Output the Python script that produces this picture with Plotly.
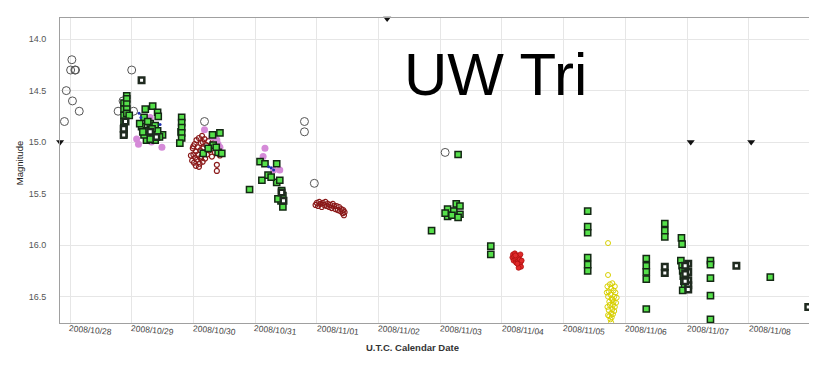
import numpy as np
import pandas as pd
import plotly.graph_objects as go

# Time in days since 2008-10-28 00:00 UT ; magnitudes
EPOCH = pd.Timestamp("2008-10-28 00:00:00")

t_visual = [-0.09, -0.06, 0.01, 0.03, 0.04, 0.08, 0.09, 0.15, 0.78, 0.86, 1.00, 1.03,
            2.18, 3.80, 3.80, 3.96, 6.08]
m_visual = [14.80, 14.50, 14.30, 14.20, 14.60, 14.30, 14.30, 14.70, 14.70, 14.60, 14.30, 14.70,
            14.80, 14.80, 14.90, 15.40, 15.10]

t_darkred = [1.96, 1.98, 1.99, 2.00, 2.01, 2.02, 2.03, 2.04, 2.05, 2.06, 2.07, 2.08, 2.09, 2.10,
             2.11, 2.12, 2.13, 2.14, 2.15, 2.16, 2.17, 2.18, 2.19, 2.21, 2.22, 2.24, 2.26, 2.28,
             2.30, 2.33, 2.35, 2.38, 2.38, 2.41, 2.43, 2.04, 2.09, 2.12, 2.00, 2.15,
             3.98, 4.00, 4.02, 4.04, 4.06, 4.08, 4.10, 4.12, 4.14, 4.16, 4.18, 4.20, 4.22, 4.24,
             4.26, 4.28, 4.30, 4.32, 4.34, 4.36, 4.38, 4.40, 4.42, 4.43, 4.44, 4.45]
m_darkred = [15.13, 15.18, 15.06, 15.12, 15.20, 15.02, 15.15, 15.09, 14.98, 15.17, 15.05, 15.12,
             14.96, 15.21, 15.08, 15.01, 15.14, 14.94, 15.19, 15.06, 15.10, 14.97, 15.16, 15.03,
             15.12, 14.99, 15.08, 15.04, 15.14, 15.01, 15.10, 15.22, 15.28, 15.07, 15.13, 15.23,
             15.24, 15.16, 15.04, 15.00,
             15.61, 15.59, 15.62, 15.58, 15.60, 15.63, 15.59, 15.61, 15.58, 15.62, 15.60, 15.63,
             15.61, 15.64, 15.60, 15.62, 15.65, 15.62, 15.66, 15.63, 15.67, 15.65, 15.69, 15.66,
             15.71, 15.68]

t_pink = [1.08, 1.11, 1.30, 1.28, 1.32, 1.49,
          2.18, 2.30, 2.38, 2.43, 2.45, 2.40,
          3.16, 3.13, 3.40, 3.30]
m_pink = [14.97, 15.02, 14.76, 14.93, 15.00, 15.05,
          14.88, 14.95, 14.98, 15.05, 15.10, 15.02,
          15.06, 15.14, 15.27, 15.27]

t_green = [0.875, 0.875, 0.875, 0.875, 0.875, 0.875, 0.92, 0.92, 0.92, 0.92, 0.92, 0.96,
           1.22, 1.34, 1.42, 1.43, 1.50, 1.38, 1.24,
           1.20, 1.16, 1.24, 1.30, 1.35, 1.38, 1.30, 1.20, 1.13, 1.42, 1.26, 1.33, 1.45, 1.18,
           1.80, 1.81, 1.81, 1.81, 1.81, 1.81, 1.78,
           2.31, 2.43, 2.16, 2.40, 2.46, 2.32, 2.24, 2.37,
           2.91,
           3.08, 3.16, 3.11, 3.35, 3.35, 3.40, 3.21, 3.26, 3.43, 3.45, 3.42, 3.45, 3.37,
           5.86, 6.12, 6.12, 6.08, 6.29, 6.26, 6.32, 6.22, 6.19, 6.29, 6.32,
           6.82, 6.82,
           8.39, 8.39, 8.39, 8.39, 8.39, 8.39,
           9.34, 9.34, 9.34, 9.34, 9.34,
           9.64, 9.64, 9.64,
           9.91, 9.92, 9.90, 9.92, 9.93, 9.94, 9.95, 9.96, 9.93,
           10.38, 10.38, 10.38, 10.38, 10.38,
           11.35]
m_green = [14.62, 14.68, 14.74, 14.80, 14.86, 14.92, 14.55, 14.58, 14.63, 14.68, 14.72, 14.74,
           14.68, 14.65, 14.71, 14.75, 14.93, 14.98, 14.98,
           14.76, 14.85, 14.89, 14.82, 14.92, 14.84, 14.97, 14.93, 14.82, 14.89, 14.80, 14.87,
           14.95, 14.90,
           14.90, 14.76, 14.81, 14.86, 14.91, 14.96, 15.01,
           14.93, 14.91, 15.11, 15.10, 15.11, 15.03, 15.06, 15.05,
           15.46,
           15.19, 15.21, 15.37, 15.21, 15.39, 15.37, 15.32, 15.34, 15.47, 15.52, 15.57, 15.63, 15.55,
           15.86, 15.65, 15.72, 15.69, 15.12, 15.60, 15.70, 15.67, 15.71, 15.73, 15.62,
           16.01, 16.09,
           15.67, 15.82, 15.88, 16.12, 16.19, 16.25,
           16.13, 16.20, 16.26, 16.33, 16.62,
           15.79, 15.86, 15.92,
           15.93, 15.99, 16.15, 16.20, 16.25, 16.30, 16.35, 16.40, 16.44,
           16.15, 16.19, 16.32, 16.49, 16.72,
           16.31]

t_hollow = [1.16, 0.87, 0.87, 0.90, 1.30, 1.40, 3.43, 3.46,
            9.64, 9.64, 10.02, 10.02, 10.02, 10.02, 10.02, 9.97, 9.97, 9.97,
            10.80, 11.965]
m_hollow = [14.40, 14.93, 14.87, 14.80, 14.90, 14.95, 15.49, 15.57,
            16.21, 16.27, 16.18, 16.26, 16.34, 16.39, 16.43, 16.20, 16.28, 16.35,
            16.20, 16.60]

t_blue = [1.12, 1.15, 1.46, 3.22, 3.26, 3.30]
m_blue = [14.72, 14.76, 14.83, 15.24, 15.25, 15.27]

t_red = [7.17, 7.18, 7.19, 7.20, 7.21, 7.22, 7.23, 7.24, 7.25, 7.26, 7.27, 7.28, 7.29, 7.30,
         7.31, 7.30, 7.27, 7.25, 7.32, 7.22]
m_red = [16.12, 16.09, 16.15, 16.11, 16.08, 16.14, 16.17, 16.10, 16.13, 16.16, 16.11, 16.19,
         16.14, 16.17, 16.21, 16.09, 16.22, 16.18, 16.15, 16.10]

t_yellow = [8.72, 8.72, 8.71, 8.73, 8.75, 8.77, 8.79, 8.81, 8.83, 8.72, 8.74, 8.76, 8.78, 8.80,
            8.82, 8.84, 8.71, 8.73, 8.75, 8.77, 8.79, 8.81, 8.83, 8.74, 8.76, 8.78, 8.80, 8.82,
            8.77, 8.79, 8.85, 8.72, 8.70, 8.86]
m_yellow = [15.98, 16.29, 16.40, 16.45, 16.38, 16.42, 16.37, 16.44, 16.40, 16.50, 16.55, 16.48,
            16.52, 16.58, 16.50, 16.46, 16.60, 16.63, 16.58, 16.66, 16.62, 16.55, 16.60, 16.69,
            16.72, 16.70, 16.67, 16.64, 16.75, 16.53, 16.56, 16.68, 16.46, 16.51]

t_limit = [-0.16, 5.14, 10.06, 11.04]
m_limit = [15.00, 13.80, 15.00, 15.00]

date_labels = ["2008/10/28", "2008/10/29", "2008/10/30", "2008/10/31", "2008/11/01",
               "2008/11/02", "2008/11/03", "2008/11/04", "2008/11/05", "2008/11/06",
               "2008/11/07", "2008/11/08"]


def to_dt(t):
    return EPOCH + pd.to_timedelta(np.array(t, dtype=float), unit="D")


FONT = "Liberation Sans, Arial, sans-serif"
fig = go.Figure()

fig.add_trace(go.Scatter(x=to_dt(t_visual), y=m_visual, mode="markers",
                         marker=dict(symbol="circle-open", size=8, color="#555555",
                                     line=dict(width=1))))
fig.add_trace(go.Scatter(x=to_dt(t_darkred), y=m_darkred, mode="markers",
                         marker=dict(symbol="circle-open", size=5, color="#8b1a1a",
                                     line=dict(width=1.2))))
fig.add_trace(go.Scatter(x=to_dt(t_pink), y=m_pink, mode="markers",
                         marker=dict(symbol="circle", size=7, color="#d58ad8")))
fig.add_trace(go.Scatter(x=to_dt(t_green), y=m_green, mode="markers",
                         marker=dict(symbol="square", size=6.2, color="#55e04a",
                                     line=dict(width=1.5, color="#142814"))))
fig.add_trace(go.Scatter(x=to_dt(t_hollow), y=m_hollow, mode="markers",
                         marker=dict(symbol="square", size=5.5, color="#ffffff",
                                     line=dict(width=2.5, color="#1f2a1f"))))
fig.add_trace(go.Scatter(x=to_dt(t_blue), y=m_blue, mode="markers",
                         marker=dict(symbol="circle", size=3, color="#2030b0")))
fig.add_trace(go.Scatter(x=to_dt(t_red), y=m_red, mode="markers",
                         marker=dict(symbol="circle", size=5, color="#e02a2a",
                                     line=dict(width=0.8, color="#b01010"))))
fig.add_trace(go.Scatter(x=to_dt(t_yellow), y=m_yellow, mode="markers",
                         marker=dict(symbol="circle-open", size=5, color="#d8d000",
                                     line=dict(width=1))))
fig.add_trace(go.Scatter(x=to_dt(t_limit), y=m_limit, mode="markers", cliponaxis=False,
                         marker=dict(symbol="triangle-down", size=7, color="#111111")))

x_start = EPOCH + pd.Timedelta(days=-0.162)
x_end = EPOCH + pd.Timedelta(days=11.977)

fig.update_xaxes(range=[x_start, x_end], type="date", tick0=EPOCH, dtick=86400000,
                 showticklabels=False, showgrid=True, gridcolor="#e6e6e6", gridwidth=1,
                 showline=True, linecolor="#a0a0a0", linewidth=1, mirror=True,
                 zeroline=False, ticks="")
fig.update_yaxes(range=[16.756, 13.795], tick0=14.0, dtick=0.5, tickformat=".1f",
                 showgrid=True, gridcolor="#e6e6e6", gridwidth=1,
                 showline=True, linecolor="#a0a0a0", linewidth=1, mirror=False,
                 zeroline=False, ticks="", ticklabelstandoff=11,
                 tickfont=dict(family=FONT, size=9, color="#555555"))

annotations = []
for i, lab in enumerate(date_labels):
    annotations.append(dict(x=EPOCH + pd.Timedelta(days=i + 0.337), y=0, xref="x", yref="paper",
                            text=lab, showarrow=False, textangle=5,
                            xanchor="center", yanchor="middle", yshift=-7,
                            font=dict(family=FONT, size=8.5, color="#444444")))
annotations.append(dict(x=(412.5 - 60) / 749, y=(322.7 - 346.7) / 304.7, xref="paper",
                        yref="paper", text="<b>U.T.C. Calendar Date</b>", showarrow=False,
                        xanchor="center", yanchor="middle",
                        font=dict(family=FONT, size=9.5, color="#333333")))
annotations.append(dict(x=(19 - 60) / 749, y=(322.7 - 163) / 304.7, xref="paper", yref="paper",
                        text="Magnitude", showarrow=False, textangle=-90,
                        xanchor="center", yanchor="middle",
                        font=dict(family=FONT, size=9.5, color="#222222")))
annotations.append(dict(x=(495 - 60) / 749, y=(322.7 - 74) / 304.7, xref="paper", yref="paper",
                        text="UW Tri", showarrow=False, xanchor="center", yanchor="middle",
                        font=dict(family=FONT, size=60, color="#000000")))

fig.update_layout(width=828, height=378, margin=dict(l=60, r=19, t=18, b=55, pad=0),
                  paper_bgcolor="white", plot_bgcolor="white", showlegend=False,
                  annotations=annotations, font=dict(family=FONT))

fig.write_html("out.html")
